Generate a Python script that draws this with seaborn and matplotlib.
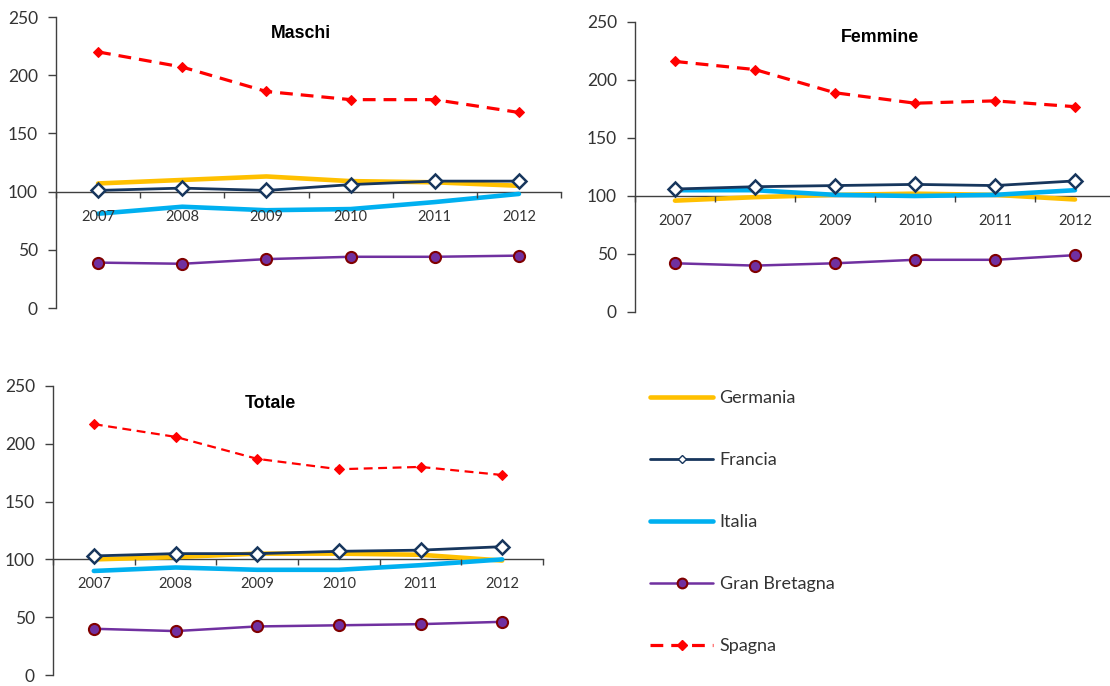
import matplotlib
matplotlib.use("Agg")
import matplotlib.pyplot as plt
from matplotlib.lines import Line2D
from matplotlib.ticker import FixedLocator, NullFormatter, FixedFormatter
import seaborn as sns
import pandas as pd

# ---------------- data ----------------
years = [2007, 2008, 2009, 2010, 2011, 2012]
countries = ["Germania", "Francia", "Italia", "Gran Bretagna", "Spagna"]

germania_m = [107, 110, 113, 109, 108, 105]
francia_m = [101, 103, 101, 106, 109, 109]
italia_m = [81, 87, 84, 85, 91, 98]
gb_m = [39, 38, 42, 44, 44, 45]
spagna_m = [220, 207, 186, 179, 179, 168]

germania_f = [96, 99, 101, 102, 101, 97]
francia_f = [106, 108, 109, 110, 109, 113]
italia_f = [105, 105, 101, 100, 101, 105]
gb_f = [42, 40, 42, 45, 45, 49]
spagna_f = [216, 209, 189, 180, 182, 177]

germania_t = [100, 102, 105, 105, 104, 99]
francia_t = [103, 105, 105, 107, 108, 111]
italia_t = [90, 93, 91, 91, 95, 100]
gb_t = [40, 38, 42, 43, 44, 46]
spagna_t = [217, 206, 187, 178, 180, 173]

panels = ["Maschi", "Femmine", "Totale"]
panel_values = {
    "Maschi": [germania_m, francia_m, italia_m, gb_m, spagna_m],
    "Femmine": [germania_f, francia_f, italia_f, gb_f, spagna_f],
    "Totale": [germania_t, francia_t, italia_t, gb_t, spagna_t],
}
yticks = [0, 50, 100, 150, 200, 250]

rows = []
for p in panels:
    for c, vals in zip(countries, panel_values[p]):
        for y, v in zip(years, vals):
            rows.append({"Pannello": p, "Paese": c, "Anno": y, "Valore": v})
df = pd.DataFrame(rows)

# ---------------- style ----------------
sns.set_theme(style="white")
plt.rcParams["font.family"] = ["Lato", "DejaVu Sans"]

styles = {
    "Germania": dict(color="#FFC000", linewidth=3.3, zorder=3),
    "Francia": dict(color="#17365D", linewidth=2.0, marker="D", markersize=7.5,
                    markerfacecolor="white", markeredgecolor="#17365D",
                    markeredgewidth=1.8, zorder=5),
    "Italia": dict(color="#00B0F0", linewidth=3.3, zorder=4),
    "Gran Bretagna": dict(color="#7030A0", linewidth=1.8, marker="o", markersize=8,
                          markerfacecolor="#7030A0", markeredgecolor="#800000",
                          markeredgewidth=1.5, zorder=5),
    "Spagna": dict(color="#FF0000", linewidth=2.3, linestyle=(0, (4, 2.5)),
                   marker="D", markersize=5.5, markerfacecolor="#FF0000",
                   markeredgecolor="#FF0000", zorder=6),
}

W, H = 1110, 686
fig = plt.figure(figsize=(W / 100, H / 100), dpi=100)

# axes rectangles in pixels: left, right, top (y=250), bottom (y=0)
rects = {
    "Maschi": (56, 561, 17, 308),
    "Femmine": (635, 1115, 22, 312),
    "Totale": (53, 543, 386, 675),
}
title_pos = {"Maschi": (301, 33), "Femmine": (880, 37), "Totale": (270, 403)}

axis_col = "#404040"
for p in panels:
    l, r, t, b = rects[p]
    ax = fig.add_axes([l / W, 1 - b / H, (r - l) / W, (b - t) / H])
    sub = df[df["Pannello"] == p]
    for c in countries:
        st = dict(styles[c])
        if p == "Totale" and c == "Spagna":
            st["linewidth"] = 1.6
            st["linestyle"] = (0, (4, 2.5))
        sns.lineplot(data=sub[sub["Paese"] == c], x="Anno", y="Valore", ax=ax,
                     legend=False, **st)
    ax.set_xlim(years[0] - 0.5, years[-1] + 0.5)
    ax.set_ylim(0, 250)
    ax.set_xlabel("")
    ax.set_ylabel("")
    for s in ["top", "right"]:
        ax.spines[s].set_visible(False)
    ax.spines["bottom"].set_position(("data", 100))
    for s in ["left", "bottom"]:
        ax.spines[s].set_color(axis_col)
        ax.spines[s].set_linewidth(1.0)
        ax.spines[s].set_zorder(2)
    ax.set_yticks(yticks)
    ax.tick_params(axis="y", direction="out", length=6, width=1, color=axis_col,
                   labelsize=12.5, labelcolor="#333333", pad=7, left=True)
    bounds = [y - 0.5 for y in years] + [years[-1] + 0.5]
    ax.xaxis.set_major_locator(FixedLocator(bounds))
    ax.xaxis.set_major_formatter(NullFormatter())
    ax.xaxis.set_minor_locator(FixedLocator(years))
    ax.xaxis.set_minor_formatter(FixedFormatter([str(y) for y in years]))
    ax.tick_params(axis="x", which="major", direction="out", length=4, width=1,
                   color=axis_col, bottom=True)
    ax.tick_params(axis="x", which="minor", length=0, labelsize=10.5,
                   labelcolor="#333333", pad=13, bottom=True)
    ax.xaxis.set_zorder(10)
    ax.grid(False)
    ax.patch.set_alpha(0)
    tx, ty = title_pos[p]
    ax.text((tx - l) / (r - l), (b - ty) / (b - t), p, transform=ax.transAxes,
            ha="center", va="center", fontsize=12.8, fontweight="bold",
            family=["Liberation Sans", "DejaVu Sans"], color="black")

# ---------------- legend ----------------
handles = []
for c in countries:
    st = dict(styles[c])
    st.pop("zorder", None)
    if c == "Francia":
        st["markersize"] = 4.5
        st["markeredgewidth"] = 1.0
    if c == "Gran Bretagna":
        st["markersize"] = 7
    handles.append(Line2D([], [], **st))
fig.legend(handles, countries, loc="center left",
           bbox_to_anchor=(650 / W, 1 - 522 / H), frameon=False,
           fontsize=13, labelspacing=2.55, handlelength=3.5,
           handletextpad=0.35, borderpad=0, borderaxespad=0,
           labelcolor="#333333")

fig.savefig("out.png", dpi=100)
